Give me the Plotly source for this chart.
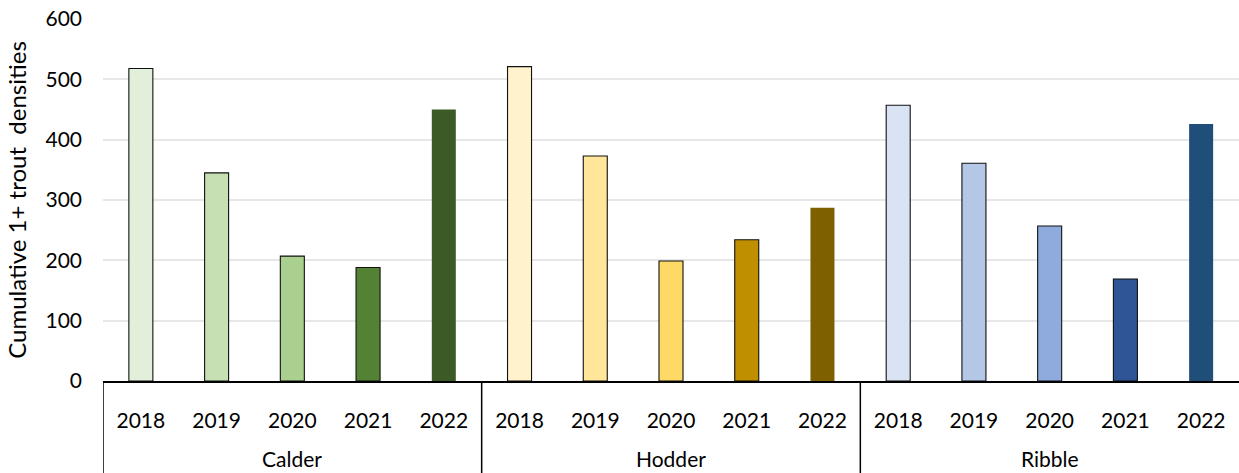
import plotly.graph_objects as go

rivers = ["Calder", "Hodder", "Ribble"]
years = ["2018", "2019", "2020", "2021", "2022"]

calder = [518, 345, 207, 188, 450]
hodder = [521, 373, 199, 234, 287]
ribble = [457, 361, 257, 169, 426]

calder_colors = ["#E2EFDA", "#C6E0B4", "#A9D08E", "#548235", "#3B5A26"]
hodder_colors = ["#FFF2CC", "#FFE699", "#FFD966", "#BF8F00", "#7F6000"]
ribble_colors = ["#DAE3F3", "#B4C7E7", "#8FAADC", "#2F5597", "#1F4E79"]

year_labels = []
values = []
colors = []
for vals, cols in zip([calder, hodder, ribble],
                      [calder_colors, hodder_colors, ribble_colors]):
    year_labels += years
    values += vals
    colors += cols

n_years = len(years)
positions = list(range(len(values)))

# latest year drawn without outline
line_widths = [0 if y == "2022" else 1.1 for y in year_labels]

font = "Lato"
black = "#000000"

fig = go.Figure(
    go.Bar(
        x=positions,
        y=values,
        marker=dict(color=colors, line=dict(color="#111111", width=line_widths)),
        customdata=year_labels,
        hovertemplate="%{customdata}: %{y}<extra></extra>",
    )
)

# river labels and separators below the year labels
for i, river in enumerate(rivers):
    start = i * n_years - 0.5
    end = (i + 1) * n_years - 0.5
    fig.add_annotation(
        x=(start + end) / 2, xref="x",
        y=-0.215, yref="paper",
        text=river, showarrow=False,
        font=dict(family=font, size=21, color=black),
        yanchor="middle",
    )
    fig.add_shape(
        type="line", xref="x", yref="paper",
        x0=start, x1=start, y0=0, y1=-0.26,
        line=dict(color=black, width=1.5),
    )

fig.update_layout(
    width=1239,
    height=473,
    margin=dict(l=103, r=0, t=19, b=92),
    plot_bgcolor="white",
    paper_bgcolor="white",
    bargap=0.683,
    showlegend=False,
    font=dict(family=font, size=21, color=black),
)

fig.update_xaxes(
    range=[-0.5, len(values) - 0.5],
    tickvals=positions,
    ticktext=year_labels,
    showline=True,
    linecolor=black,
    linewidth=1.5,
    showgrid=False,
    zeroline=False,
    ticks="",
    ticklabelstandoff=20,
    tickfont=dict(family=font, size=21, color=black),
)

fig.update_yaxes(
    range=[0, 600],
    tickvals=[0, 100, 200, 300, 400, 500, 600],
    showgrid=True,
    gridcolor="#E7E7E7",
    gridwidth=1.5,
    zeroline=False,
    showline=False,
    ticks="",
    ticklabelstandoff=20,
    tickfont=dict(family=font, size=21, color=black),
    title=dict(text="Cumulative 1+ trout  densities",
               font=dict(family=font, size=24, color=black),
               standoff=12),
)

fig.write_html("out.html")
